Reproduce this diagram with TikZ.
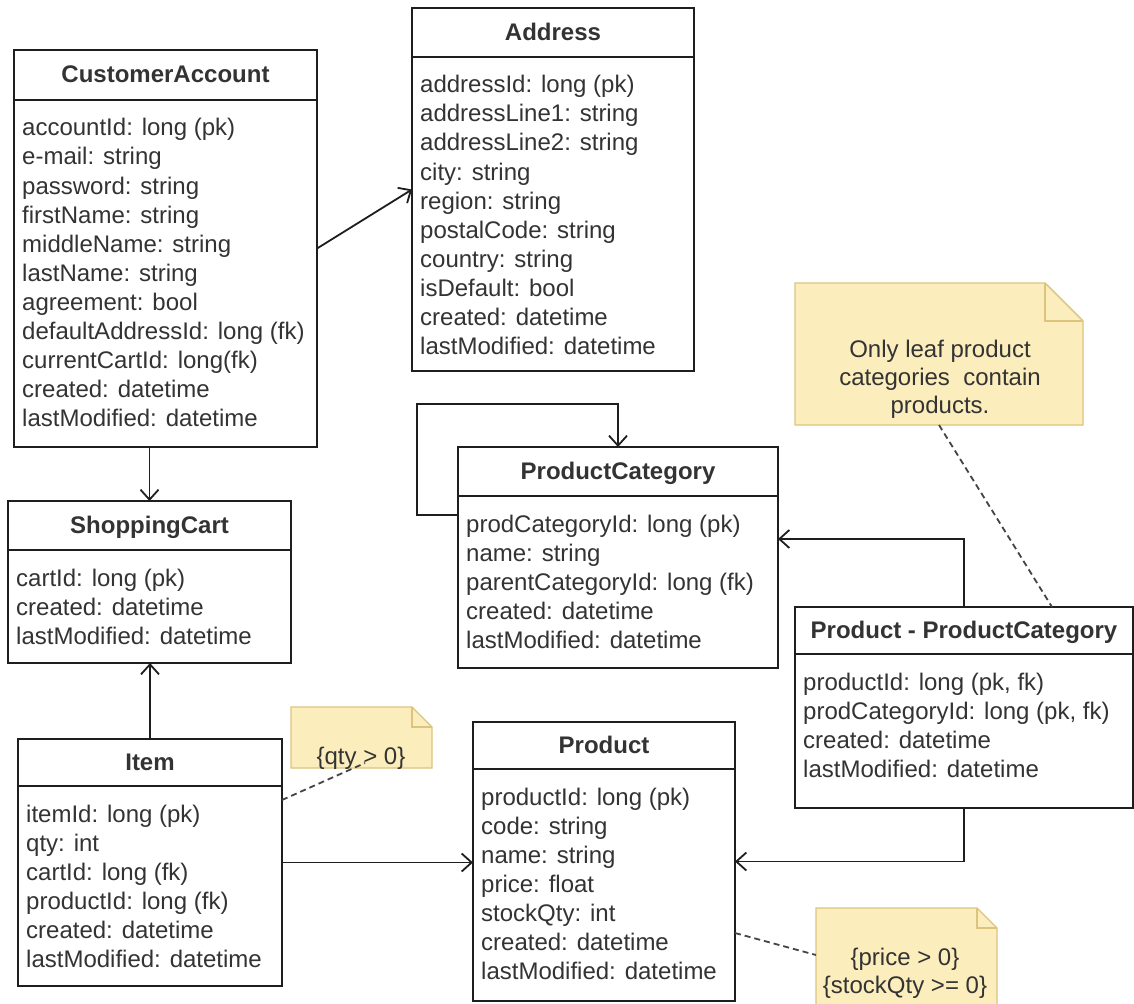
\documentclass[tikz,border=0pt]{standalone}
\usepackage{fontspec}
\setmainfont{Liberation Sans}
\usetikzlibrary{arrows.meta,calc}
\definecolor{txt}{HTML}{333333}
\definecolor{edge}{HTML}{1E1E1E}
\definecolor{notefill}{HTML}{FBEDBC}
\definecolor{noteedge}{HTML}{DCC47E}
\definecolor{dashc}{HTML}{444444}
\newcommand{\entity}[8]{%
  \node[ent, minimum width=#4pt, minimum height=#5pt] (#1) at (#2,#3) {};
  \draw[divider] ($(#1.north west)+(0,#6)$) -- ($(#1.north east)+(0,#6)$);
  \node[ttl] (#1-title) at ($(#1.north)+(0,#6/2+8)$) {#7};
  \foreach \t [count=\i] in {#8} {\node[attr] (#1-\i) at ($(#1.north west)+(8,#6+36+\i*29-29)$) {\t};}
}
\begin{document}
\begin{tikzpicture}[x=1pt,y=-1pt,
  font=\fontsize{24}{29}\selectfont,
  ent/.style={draw=edge, line width=1.8pt, fill=white, inner sep=0pt, outer sep=0pt, anchor=north west},
  divider/.style={draw=edge, line width=1.8pt},
  ttl/.style={font=\fontsize{24}{29}\selectfont\bfseries, text=txt, anchor=base, inner sep=0pt},
  attr/.style={text=txt, anchor=base west, inner sep=0pt},
  conn/.style={draw=edge, line width=1.8pt, -{Straight Barb[length=10pt,width=18pt,line width=1.8pt]}},
  noteconn/.style={draw=dashc, line width=1.8pt, dash pattern=on 6pt off 4pt},
  notebg/.style={fill=notefill, draw=noteedge, line width=1.4pt, line join=miter},
  notefold/.style={draw=noteedge, line width=1.4pt},
  noteframe/.style={inner sep=0pt, outer sep=0pt, anchor=north west},
  notetxt/.style={text=txt, anchor=base, inner sep=0pt}]
\useasboundingbox (0,0) rectangle (1134,1003);
\fill[white] (0,0) rectangle (1134,1003);

% entities
\entity{ca}{14}{50}{303}{397}{50}{CustomerAccount}{accountId: long (pk),e-mail: string,password: string,firstName: string,middleName: string,lastName: string,agreement: bool,defaultAddressId: long (fk),currentCartId: long(fk),created: datetime,lastModified: datetime}
\entity{ad}{412}{8}{282}{363}{49}{Address}{addressId: long (pk),addressLine1: string,addressLine2: string,city: string,region: string,postalCode: string,country: string,isDefault: bool,created: datetime,lastModified: datetime}
\entity{sc}{8}{501}{283}{162}{49}{ShoppingCart}{cartId: long (pk),created: datetime,lastModified: datetime}
\entity{it}{18}{739}{264}{247}{47}{Item}{itemId: long (pk),qty: int,cartId: long (fk),productId: long (fk),created: datetime,lastModified: datetime}
\entity{pc}{458}{447}{320}{221}{49}{ProductCategory}{prodCategoryId: long (pk),name: string,parentCategoryId: long (fk),created: datetime,lastModified: datetime}
\entity{ppc}{795}{607}{338}{201}{47}{Product - ProductCategory}{{productId: long (pk, fk)},{prodCategoryId: long (pk, fk)},created: datetime,lastModified: datetime}
\entity{pr}{473}{722}{262}{279}{47}{Product}{productId: long (pk),code: string,name: string,price: float,stockQty: int,created: datetime,lastModified: datetime}

% notes
\node[noteframe, minimum width=141pt, minimum height=61pt] (n1) at (291,707) {};
\path[notebg] (n1.north west) -- ($(n1.north east)+(-20,0)$) -- ($(n1.north east)+(0,20)$) -- (n1.south east) -- (n1.south west) -- cycle;
\draw[notefold] ($(n1.north east)+(-20,0)$) -- ++(0,20) -- ++(20,0);
\node[notetxt] (n1-1) at (361,764) {\{qty > 0\}};

\node[noteframe, minimum width=288pt, minimum height=142pt] (n2) at (795,283) {};
\path[notebg] (n2.north west) -- ($(n2.north east)+(-38,0)$) -- ($(n2.north east)+(0,38)$) -- (n2.south east) -- (n2.south west) -- cycle;
\draw[notefold] ($(n2.north east)+(-38,0)$) -- ++(0,38) -- ++(38,0);
\node[notetxt] (n2-1) at (940,357) {Only leaf product};
\node[notetxt] (n2-2) at (940,385) {categories\ \ contain};
\node[notetxt] (n2-3) at (940,413) {products.};

\node[noteframe, minimum width=181pt, minimum height=110pt] (n3) at (816,908) {};
\path[notebg] (n3.north west) -- ($(n3.north east)+(-20,0)$) -- ($(n3.north east)+(0,20)$) -- (n3.south east) -- (n3.south west) -- cycle;
\draw[notefold] ($(n3.north east)+(-20,0)$) -- ++(0,20) -- ++(20,0);
\node[notetxt] (n3-1) at (905,965) {\{price > 0\}};
\node[notetxt] (n3-2) at (905,993) {\{stockQty >= 0\}};

% connectors
\draw[conn] (ca.east) -- (ad.west);
\draw[conn] (ca.south -| sc.north) -- (sc.north);
\draw[conn] (it.north) -- (it.north |- sc.south);
\draw[conn] (it.east) -- (it.east -| pr.west);
\coordinate (pc-in) at ($(pc.north east)+(0,92)$);
\draw[conn] (ppc.north) |- (pc-in);
\draw[conn] (ppc.south) |- (pr.east);
\draw[conn] ($(pc.north west)+(0,68)$) -- ++(-41,0) |- ($(pc.north)+(0,-43)$) -- (pc.north);

% note links
\draw[noteconn] ($(it.north east)+(0,61)$) -- ($(n1.south west)+(74,-5)$);
\draw[noteconn] (n2.south) -- ($(ppc.north west)+(257,0)$);
\draw[noteconn] ($(pr.north east)+(0,211)$) -- ($(n3.north west)+(0,47)$);
\end{tikzpicture}
\end{document}
